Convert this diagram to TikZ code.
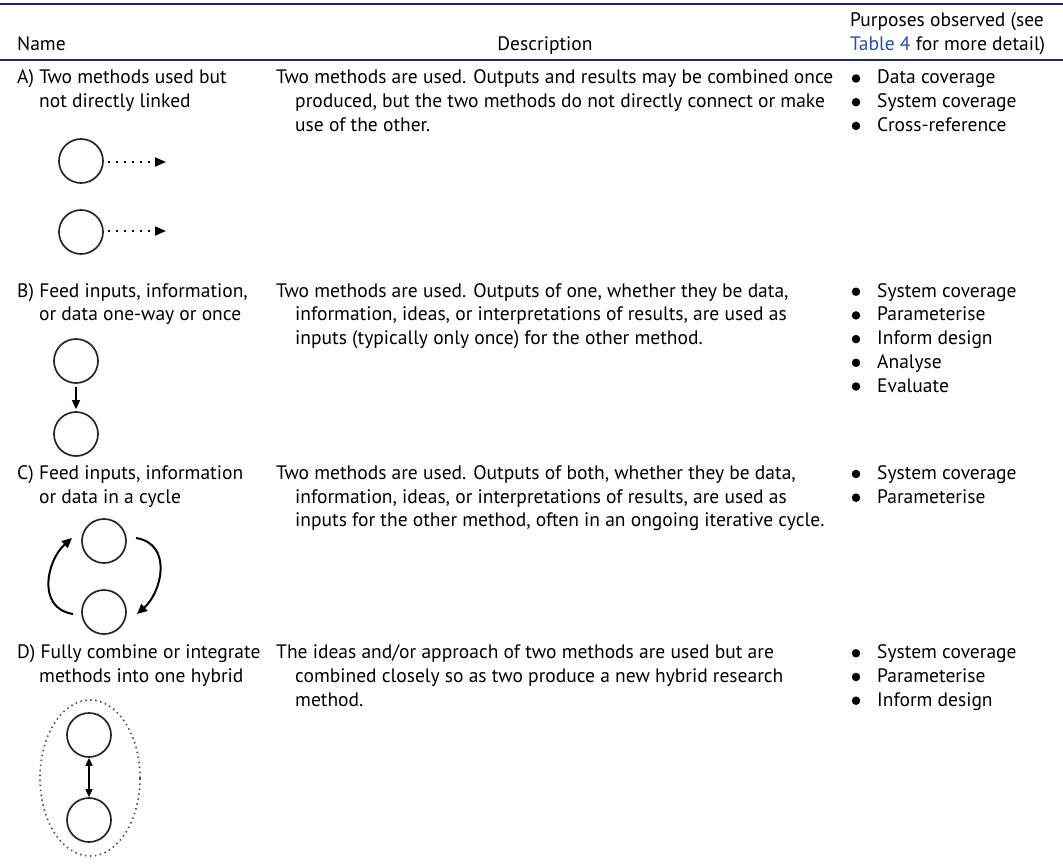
\documentclass[tikz,border=0pt]{standalone}
\usepackage{fontspec}
\setmainfont{PT Sans}
\usetikzlibrary{arrows.meta,shapes.geometric,calc}
\definecolor{rulecol}{RGB}{30,38,110}
\definecolor{linkcol}{RGB}{35,80,175}
\begin{document}
\begin{tikzpicture}[x=1pt,y=-1pt,
  txt/.style={anchor=base west, inner sep=0pt, font=\fontsize{19.5}{23}\selectfont},
  hdr/.style={txt},
  bul/.style={circle, fill=black, inner sep=0pt, minimum size=8.5pt},
  meth/.style={circle, draw=black!85, line width=1.7pt, minimum size=44pt, inner sep=0pt},
  dotarrow/.style={line width=2pt, dash pattern=on 2pt off 6pt, -{Triangle[length=11pt,width=9pt]}},
  solidarrow/.style={line width=1.6pt, -{Triangle[length=9pt,width=8pt]}},
  cycarrow/.style={line width=2pt, -{Triangle[length=10pt,width=9pt]}},
  rulestyle/.style={draw=rulecol, line width=2pt}]
\path[use as bounding box] (0,0) rectangle (1063,864);
% rules
\draw[rulestyle] (0,4) -- (1063,4);
\draw[rulestyle] (0,60) -- (1063,60);
% header
\node[hdr] (hname) at (17,50.5) {Name};
\node[hdr, anchor=base] (hdesc) at (545,50.5) {Description};
\node[hdr] (hpur1) at (850,27) {Purposes observed (see};
\node[hdr] (hpur2) at (850,50.5) {\textcolor{linkcol}{Table 4} for more detail)};
% ---------- Row A
\node[txt] (an1) at (17,84) {A) Two methods used but};
\node[txt] (an2) at (39,107.7) {not directly linked};
\node[txt] (ad1) at (276,84) {Two methods are used. Outputs and results may be combined once};
\node[txt] (ad2) at (295,107.7) {produced, but the two methods do not directly connect or make};
\node[txt] (ad3) at (295,131.4) {use of the other.};
\node[bul] (ab1) at (856,78.5) {};
\node[bul] (ab2) at (856,102.2) {};
\node[bul] (ab3) at (856,125.9) {};
\node[txt] (ap1) at (877,84) {Data coverage};
\node[txt] (ap2) at (877,107.7) {System coverage};
\node[txt] (ap3) at (877,131.4) {Cross-reference};
\node[meth] (a1) at (81,161) {};
\node[meth] (a2) at (81,232) {};
\coordinate (a1e) at (166,162);
\coordinate (a2e) at (166,231);
\draw[dotarrow] ($(a1.east)+(4,1)$) -- (a1e);
\draw[dotarrow] ($(a2.east)+(4,-1)$) -- (a2e);
% ---------- Row B
\node[txt] (bn1) at (17,297.2) {B) Feed inputs, information,};
\node[txt] (bn2) at (39,320.9) {or data one-way or once};
\node[txt] (bd1) at (276,297.2) {Two methods are used. Outputs of one, whether they be data,};
\node[txt] (bd2) at (295,320.9) {information, ideas, or interpretations of results, are used as};
\node[txt] (bd3) at (295,344.6) {inputs (typically only once) for the other method.};
\node[bul] (bb1) at (856,291.7) {};
\node[bul] (bb2) at (856,315.4) {};
\node[bul] (bb3) at (856,339.1) {};
\node[bul] (bb4) at (856,362.8) {};
\node[bul] (bb5) at (856,386.5) {};
\node[txt] (bp1) at (877,297.2) {System coverage};
\node[txt] (bp2) at (877,320.9) {Parameterise};
\node[txt] (bp3) at (877,344.6) {Inform design};
\node[txt] (bp4) at (877,368.3) {Analyse};
\node[txt] (bp5) at (877,392) {Evaluate};
\node[meth] (b1) at (76,361) {};
\node[meth] (b2) at (76,434) {};
\draw[solidarrow] ($(b1.south)+(0,3)$) -- ($(b2.north)+(0,-2)$);
% ---------- Row C
\node[txt] (cn1) at (17,479.5) {C) Feed inputs, information};
\node[txt] (cn2) at (39,503.2) {or data in a cycle};
\node[txt] (cd1) at (276,479.5) {Two methods are used. Outputs of both, whether they be data,};
\node[txt] (cd2) at (295,503.2) {information, ideas, or interpretations of results, are used as};
\node[txt] (cd3) at (295,526.9) {inputs for the other method, often in an ongoing iterative cycle.};
\node[bul] (cb1) at (856,474) {};
\node[bul] (cb2) at (856,497.7) {};
\node[txt] (cp1) at (877,479.5) {System coverage};
\node[txt] (cp2) at (877,503.2) {Parameterise};
\node[meth] (c1) at (104,541) {};
\node[meth] (c2) at (104,612) {};
\coordinate (cls) at (73,614);
\coordinate (cle) at (72,538);
\coordinate (crs) at (136,538);
\coordinate (cre) at (137,614);
\draw[cycarrow] (cls) .. controls (36,608) and (47,560) .. (cle);
\draw[cycarrow] (crs) .. controls (173,544) and (162,592) .. (cre);
% ---------- Row D
\node[txt] (dn1) at (17,658.8) {D) Fully combine or integrate};
\node[txt] (dn2) at (39,682.5) {methods into one hybrid};
\node[txt] (dd1) at (276,658.8) {The ideas and/or approach of two methods are used but are};
\node[txt] (dd2) at (295,682.5) {combined closely so as two produce a new hybrid research};
\node[txt] (dd3) at (295,706.2) {method.};
\node[bul] (db1) at (856,653.3) {};
\node[bul] (db2) at (856,677) {};
\node[bul] (db3) at (856,700.7) {};
\node[txt] (dp1) at (877,658.8) {System coverage};
\node[txt] (dp2) at (877,682.5) {Parameterise};
\node[txt] (dp3) at (877,706.2) {Inform design};
\node[ellipse, draw=black!70, line width=1.6pt, dash pattern=on 1.5pt off 3.5pt, minimum width=100pt, minimum height=156pt, inner sep=0pt] (dh) at (90,778) {};
\node[meth] (d1) at (89,735) {};
\node[meth] (d2) at (89,820) {};
\draw[line width=1.6pt, {Triangle[length=8pt,width=7pt]}-{Triangle[length=8pt,width=7pt]}] (d1.south) -- (d2.north);
\end{tikzpicture}
\end{document}
